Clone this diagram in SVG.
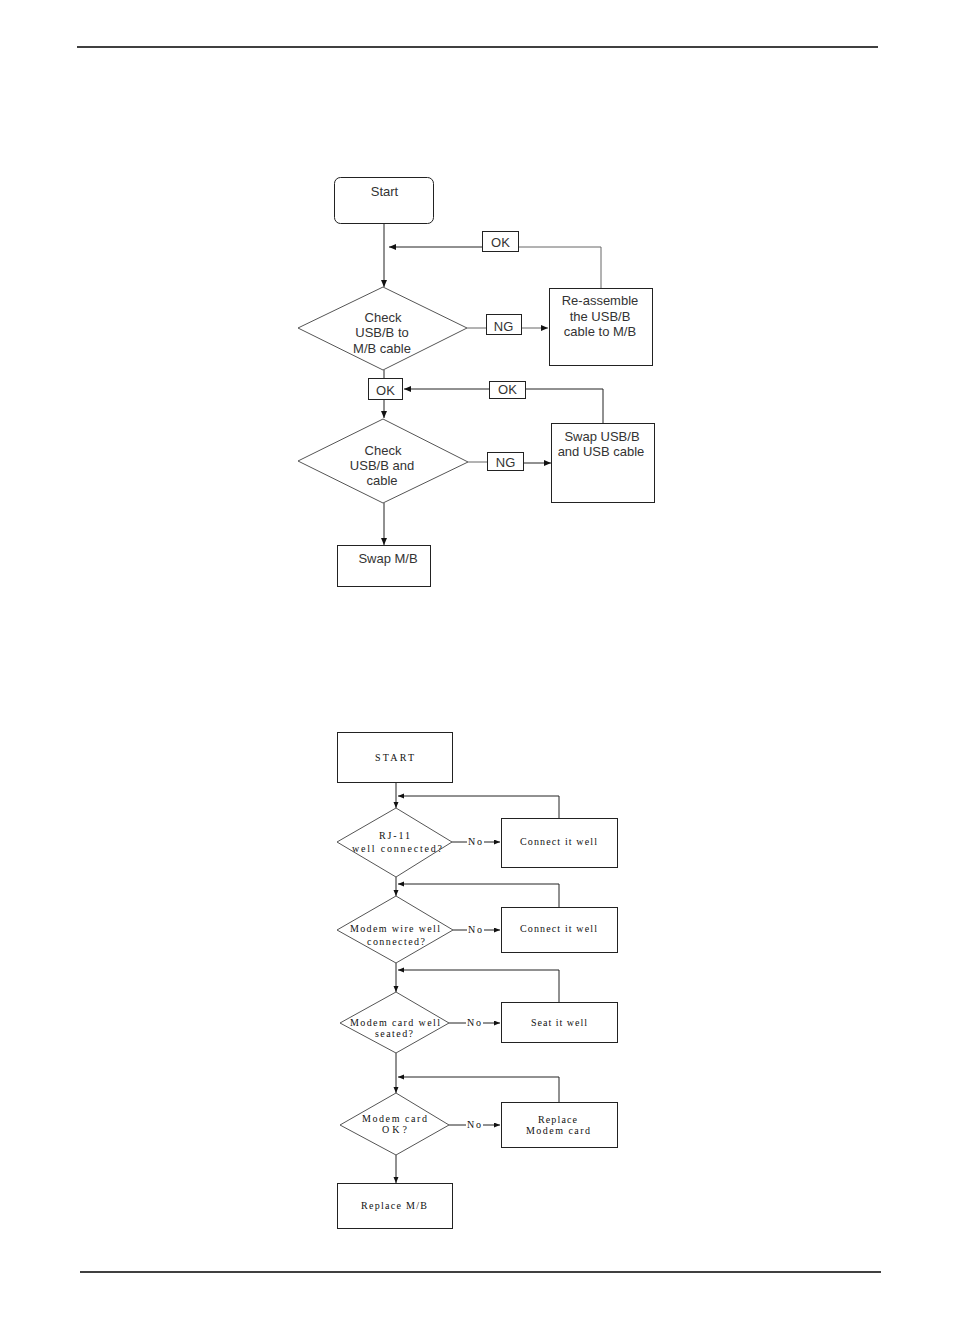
<svg xmlns="http://www.w3.org/2000/svg" width="954" height="1336" viewBox="0 0 954 1336">
<style>
.bg{fill:#fff}
.rule{stroke:#000;stroke-width:1.3;fill:none}
.box{fill:#fff;stroke:#222;stroke-width:1}
.dia{fill:#fff;stroke:#555;stroke-width:1}
.ln{fill:none;stroke:#222;stroke-width:1}
.lng{fill:none;stroke:#666;stroke-width:1}
.t1{font-family:"Liberation Sans",Arial,sans-serif;font-size:13px;fill:#333;text-anchor:middle}
.t2{font-family:"Liberation Serif","Times New Roman",serif;font-size:10px;fill:#111;text-anchor:middle}
.t2l{font-family:"Liberation Serif","Times New Roman",serif;font-size:10px;fill:#111}
</style>
<defs>
<marker id="a1" markerUnits="userSpaceOnUse" markerWidth="8" markerHeight="7" refX="7" refY="3" orient="auto">
<path d="M0,0 L7,3 L0,6 z" fill="#111"/>
</marker>
<marker id="a2" markerUnits="userSpaceOnUse" markerWidth="7" markerHeight="6" refX="6" refY="2.5" orient="auto">
<path d="M0,0 L6,2.5 L0,5 z" fill="#111"/>
</marker>
</defs>
<rect class="bg" x="0" y="0" width="954" height="1336"/>
<line class="rule" x1="77" y1="47" x2="878" y2="47"/>
<line class="rule" x1="80" y1="1272" x2="881" y2="1272"/>

<g id="connectors">
<!-- top chart -->
<line class="ln" x1="384" y1="224" x2="384" y2="287" marker-end="url(#a1)"/>
<polyline class="lng" points="601,288 601,247 519,247"/>
<line class="ln" x1="483" y1="247" x2="389" y2="247" marker-end="url(#a1)"/>
<line class="lng" x1="467" y1="328" x2="486" y2="328"/>
<line class="lng" x1="522" y1="328" x2="548" y2="328" marker-end="url(#a1)"/>
<line class="ln" x1="384" y1="370" x2="384" y2="378"/>
<line class="ln" x1="384" y1="400" x2="384" y2="418" marker-end="url(#a1)"/>
<polyline class="ln" points="603,423 603,389 526,389"/>
<line class="ln" x1="489" y1="389" x2="404" y2="389" marker-end="url(#a1)"/>
<line class="lng" x1="468" y1="462" x2="487" y2="462"/>
<line class="ln" x1="524" y1="463" x2="551" y2="463" marker-end="url(#a1)"/>
<line class="ln" x1="384" y1="503" x2="384" y2="545" marker-end="url(#a1)"/>
<!-- bottom chart -->
<line class="ln" x1="396" y1="782" x2="396" y2="808" marker-end="url(#a2)"/>
<polyline class="ln" points="559,818 559,796 398,796" marker-end="url(#a2)"/>
<line class="ln" x1="452" y1="842" x2="467" y2="842"/>
<line class="ln" x1="484" y1="842" x2="500" y2="842" marker-end="url(#a2)"/>
<line class="ln" x1="396" y1="877" x2="396" y2="896" marker-end="url(#a2)"/>
<polyline class="ln" points="559,907 559,884 398,884" marker-end="url(#a2)"/>
<line class="ln" x1="453" y1="930" x2="467" y2="930"/>
<line class="ln" x1="484" y1="930" x2="500" y2="930" marker-end="url(#a2)"/>
<line class="ln" x1="396" y1="963" x2="396" y2="992" marker-end="url(#a2)"/>
<polyline class="ln" points="559,1002 559,970 398,970" marker-end="url(#a2)"/>
<line class="ln" x1="449" y1="1023" x2="466" y2="1023"/>
<line class="ln" x1="483" y1="1023" x2="500" y2="1023" marker-end="url(#a2)"/>
<line class="ln" x1="396" y1="1053" x2="396" y2="1093" marker-end="url(#a2)"/>
<polyline class="ln" points="559,1102 559,1077 398,1077" marker-end="url(#a2)"/>
<line class="ln" x1="449" y1="1125" x2="466" y2="1125"/>
<line class="ln" x1="483" y1="1125" x2="500" y2="1125" marker-end="url(#a2)"/>
<line class="ln" x1="396" y1="1155" x2="396" y2="1183" marker-end="url(#a2)"/>
</g>

<!-- top chart nodes -->
<g id="start">
<rect class="box" x="334.5" y="177.5" width="99" height="46" rx="6"/>
<text class="t1" x="384.5" y="196">Start</text>
</g>
<g id="ok1">
<rect class="box" x="482.5" y="231.5" width="36" height="20"/>
<text class="t1" x="500.5" y="247">OK</text>
</g>
<g id="check1">
<polygon class="dia" points="383,287 467,328 383,370 298,328"/>
<text class="t1" x="383" y="322">Check</text>
<text class="t1" x="382" y="337">USB/B to</text>
<text class="t1" x="382" y="353">M/B cable</text>
</g>
<g id="ng1">
<rect class="box" x="486.5" y="314.5" width="35" height="20"/>
<text class="t1" x="503.5" y="331">NG</text>
</g>
<g id="reassemble">
<rect class="box" x="549.5" y="288.5" width="103" height="77"/>
<text class="t1" x="600" y="305">Re-assemble</text>
<text class="t1" x="600" y="321">the USB/B</text>
<text class="t1" x="600" y="336">cable to M/B</text>
</g>
<g id="ok2">
<rect class="box" x="368.5" y="378.5" width="34" height="21"/>
<text class="t1" x="385.5" y="395">OK</text>
</g>
<g id="ok3">
<rect class="box" x="489.5" y="381.5" width="36" height="17"/>
<text class="t1" x="507.5" y="394">OK</text>
</g>
<g id="check2">
<polygon class="dia" points="383,419 468,462 383,503 298,461"/>
<text class="t1" x="383" y="455">Check</text>
<text class="t1" x="382" y="470">USB/B and</text>
<text class="t1" x="382" y="485">cable</text>
</g>
<g id="ng2">
<rect class="box" x="487.5" y="452.5" width="36" height="18"/>
<text class="t1" x="505.5" y="467">NG</text>
</g>
<g id="swapusb">
<rect class="box" x="551.5" y="423.5" width="103" height="79"/>
<text class="t1" x="602" y="441">Swap USB/B</text>
<text class="t1" x="601" y="456">and USB cable</text>
</g>
<g id="swapmb">
<rect class="box" x="337.5" y="545.5" width="93" height="41"/>
<text class="t1" x="388" y="563">Swap M/B</text>
</g>

<!-- bottom chart nodes -->
<g id="start2">
<rect class="box" x="337.5" y="732.5" width="115" height="50"/>
<text class="t2l" x="375" y="761" textLength="39" lengthAdjust="spacing">START</text>
</g>
<g id="rj11">
<polygon class="dia" points="396,808 452,842 396,877 337,842"/>
<text class="t2l" x="379" y="839" textLength="31" lengthAdjust="spacing">RJ-11</text>
<text class="t2l" x="352" y="852" textLength="90" lengthAdjust="spacing">well connected?</text>
</g>
<g id="no1"><text class="t2l" x="468" y="845" textLength="14" lengthAdjust="spacing">No</text></g>
<g id="connect1">
<rect class="box" x="501.5" y="818.5" width="116" height="49"/>
<text class="t2l" x="520" y="845" textLength="77" lengthAdjust="spacing">Connect it well</text>
</g>
<g id="wire">
<polygon class="dia" points="396,896 453,930 396,963 337,930"/>
<text class="t2l" x="350" y="932" textLength="90" lengthAdjust="spacing">Modem wire well</text>
<text class="t2l" x="367" y="945" textLength="58" lengthAdjust="spacing">connected?</text>
</g>
<g id="no2"><text class="t2l" x="468" y="933" textLength="14" lengthAdjust="spacing">No</text></g>
<g id="connect2">
<rect class="box" x="501.5" y="907.5" width="116" height="45"/>
<text class="t2l" x="520" y="932" textLength="77" lengthAdjust="spacing">Connect it well</text>
</g>
<g id="seated">
<polygon class="dia" points="396,992 449,1023 396,1053 340,1023"/>
<text class="t2l" x="350" y="1026" textLength="90" lengthAdjust="spacing">Modem card well</text>
<text class="t2l" x="375" y="1037" textLength="38" lengthAdjust="spacing">seated?</text>
</g>
<g id="no3"><text class="t2l" x="467" y="1026" textLength="14" lengthAdjust="spacing">No</text></g>
<g id="seat">
<rect class="box" x="501.5" y="1002.5" width="116" height="40"/>
<text class="t2l" x="531" y="1026" textLength="56" lengthAdjust="spacing">Seat it well</text>
</g>
<g id="cardok">
<polygon class="dia" points="396,1093 449,1125 396,1155 340,1125"/>
<text class="t2l" x="362" y="1122" textLength="65" lengthAdjust="spacing">Modem card</text>
<text class="t2l" x="382" y="1133" textLength="25" lengthAdjust="spacing">OK?</text>
</g>
<g id="no4"><text class="t2l" x="467" y="1128" textLength="14" lengthAdjust="spacing">No</text></g>
<g id="replacecard">
<rect class="box" x="501.5" y="1102.5" width="116" height="45"/>
<text class="t2l" x="538" y="1123" textLength="39" lengthAdjust="spacing">Replace</text>
<text class="t2l" x="526" y="1134" textLength="64" lengthAdjust="spacing">Modem card</text>
</g>
<g id="replacemb">
<rect class="box" x="337.5" y="1183.5" width="115" height="45"/>
<text class="t2l" x="361" y="1209" textLength="66" lengthAdjust="spacing">Replace M/B</text>
</g>
</svg>
